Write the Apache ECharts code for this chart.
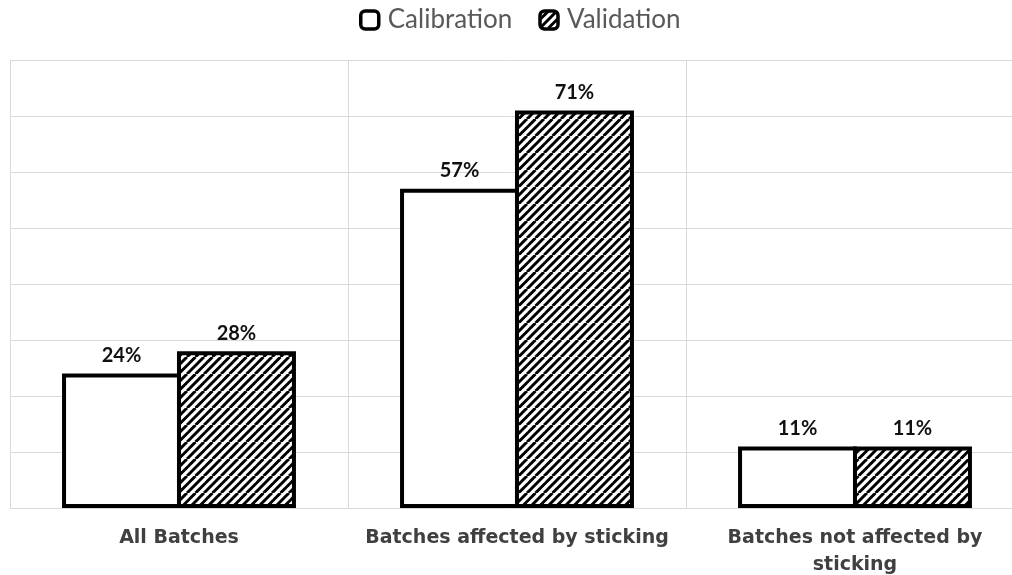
<!DOCTYPE html>
<html>
<head>
<meta charset="utf-8">
<title>Calibration vs Validation</title>
<script src="https://cdn.jsdelivr.net/npm/echarts@6/dist/echarts.min.js"></script>
<style>
  html, body { margin: 0; padding: 0; background: #ffffff; }
  #chart { width: 1012px; height: 575px; }
</style>
</head>
<body>
<div id="chart"></div>
<script>
// Chart data
const categories = [
  'All Batches',
  'Batches affected by sticking',
  'Batches not affected by\nsticking'
];
const seriesNames = ['Calibration', 'Validation'];
const calibrationValues = [0.24, 0.57, 0.11];
const validationValues = [0.28, 0.71, 0.11];
const yTicks = [0, 0.1, 0.2, 0.3, 0.4, 0.5, 0.6, 0.7, 0.8];

// Diagonal hatch tile ("/" stripes) used as the fill of the Validation bars
function makeHatch() {
  const size = 17;
  const c = document.createElement('canvas');
  c.width = size;
  c.height = size;
  const ctx = c.getContext('2d');
  ctx.fillStyle = '#ffffff';
  ctx.fillRect(0, 0, size, size);
  ctx.strokeStyle = '#000000';
  ctx.lineWidth = 3;
  const step = size / 2;
  for (let o = -size; o <= size; o += step) {
    ctx.beginPath();
    ctx.moveTo(o, size);
    ctx.lineTo(o + size, 0);
    ctx.stroke();
  }
  return c;
}
const hatch = { image: makeHatch(), repeat: 'repeat' };

const chart = echarts.init(document.getElementById('chart'), null, { renderer: 'canvas' });

const labelStyle = {
  show: true,
  position: 'top',
  distance: 8,
  color: '#111111',
  fontFamily: 'Lato',
  fontWeight: 'bold',
  fontSize: 20,
  formatter: p => Math.round(p.value * 100) + '%'
};

chart.setOption({
  backgroundColor: '#ffffff',
  animation: false,
  legend: {
    data: seriesNames,
    left: 359,
    top: 7,
    padding: 0,
    itemWidth: 18,
    itemHeight: 18,
    itemGap: 26,
    icon: 'roundRect',
    itemStyle: { borderColor: '#000000', borderWidth: 3.5 },
    textStyle: {
      fontFamily: 'Lato',
      fontSize: 26,
      color: '#595959',
      padding: [0, 0, 0, 4]
    }
  },
  // the plot runs a little past the right edge of the page, so its last separator is not visible
  grid: { left: 10, width: 1014, top: 60, height: 448, outerBoundsMode: 'none', containLabel: false },
  xAxis: {
    type: 'category',
    data: categories,
    axisTick: { show: false },
    axisLine: { show: true, lineStyle: { color: '#d9d9d9', width: 1 } },
    splitLine: { show: true, lineStyle: { color: '#d9d9d9', width: 1 } },
    axisLabel: {
      interval: 0,
      margin: 17,
      color: '#404040',
      fontFamily: 'DejaVu Sans',
      fontWeight: 'bold',
      fontSize: 19,
      lineHeight: 27
    }
  },
  yAxis: {
    type: 'value',
    min: yTicks[0],
    max: yTicks[yTicks.length - 1],
    interval: yTicks[1] - yTicks[0],
    axisLabel: { show: false },
    axisLine: { show: false },
    axisTick: { show: false },
    splitLine: { show: true, lineStyle: { color: '#d9d9d9', width: 1 } }
  },
  series: [
    {
      name: seriesNames[0],
      type: 'bar',
      data: calibrationValues,
      barWidth: '35.2%',
      barGap: '-3.4%',
      itemStyle: { color: '#ffffff', borderColor: '#000000', borderWidth: 4 },
      label: labelStyle
    },
    {
      name: seriesNames[1],
      type: 'bar',
      data: validationValues,
      barWidth: '35.2%',
      barGap: '-3.4%',
      itemStyle: { color: hatch, borderColor: '#000000', borderWidth: 4 },
      label: labelStyle
    }
  ]
});
</script>
</body>
</html>
